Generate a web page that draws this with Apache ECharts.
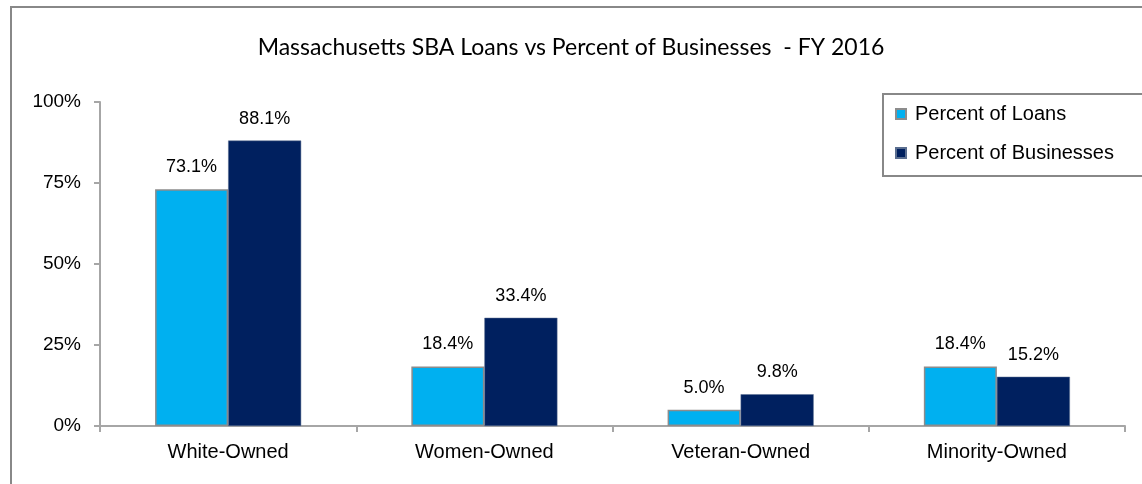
<!DOCTYPE html>
<html>
<head>
<meta charset="utf-8">
<script src="https://cdn.jsdelivr.net/npm/echarts@6/dist/echarts.min.js"></script>
<style>
html, body { margin: 0; padding: 0; background: #fff; }
#main { width: 1142px; height: 484px; }
</style>
</head>
<body>
<div id="main"></div>
<script>
var categories = ['White-Owned', 'Women-Owned', 'Veteran-Owned', 'Minority-Owned'];
var pctLoans = [73.1, 18.4, 5.0, 18.4];
var pctBusinesses = [88.1, 33.4, 9.8, 15.2];
var seriesNames = ['Percent of Loans', 'Percent of Businesses'];

var myChart = echarts.init(document.getElementById('main'));
var option = {
	animation: false,
	title: {
		text: 'Massachusetts SBA Loans vs Percent of Businesses  - FY 2016',
		left: 'center',
		top: 31,
		textStyle: { fontFamily: 'Lato', fontSize: 23, fontWeight: 'normal', color: '#000' }
	},
	graphic: [
		{ type: 'rect', shape: { x: 11, y: 7, width: 1140, height: 490 }, style: { fill: null, stroke: '#888', lineWidth: 2 }, z: -1 }
	],
	legend: {
		data: seriesNames,
		orient: 'vertical',
		left: 883,
		top: 94,
		padding: [10, 30, 13, 12],
		itemGap: 19,
		itemWidth: 10,
		itemHeight: 10,
		icon: 'rect',
		borderColor: '#888',
		borderWidth: 2,
		textStyle: { fontFamily: 'Liberation Sans', fontSize: 20, color: '#000', padding: [0, 0, 0, 4] }
	},
	grid: { left: 100, right: 17, top: 102, bottom: 58 },
	xAxis: {
		type: 'category',
		data: categories,
		axisLine: { lineStyle: { color: '#A6A6A6', width: 2 } },
		axisTick: { show: true, length: 6, lineStyle: { color: '#A6A6A6', width: 2 } },
		axisLabel: { fontFamily: 'Liberation Sans', fontSize: 20, color: '#000', margin: 16 }
	},
	yAxis: {
		type: 'value',
		min: 0,
		max: 100,
		interval: 25,
		splitLine: { show: false },
		axisLine: { show: true, lineStyle: { color: '#A6A6A6', width: 2 } },
		axisTick: { show: true, length: 6, lineStyle: { color: '#A6A6A6', width: 2 } },
		axisLabel: { formatter: '{value}%', fontFamily: 'Liberation Sans', fontSize: 19, color: '#000', margin: 19 }
	},
	series: [
		{
			name: seriesNames[0],
			type: 'bar',
			data: pctLoans,
			barGap: '0%',
			barCategoryGap: '43%',
			itemStyle: { color: '#00B0F0', borderColor: '#8C8C8C', borderWidth: 1.5 },
			label: { show: true, position: 'top', distance: 13, formatter: function (p) { return p.value.toFixed(1) + '%'; },
				fontFamily: 'Liberation Sans', fontSize: 18, color: '#000' }
		},
		{
			name: seriesNames[1],
			type: 'bar',
			data: pctBusinesses,
			itemStyle: { color: '#00205F', borderColor: '#5A6E90', borderWidth: 0.5 },
			label: { show: true, position: 'top', distance: 13, formatter: function (p) { return p.value.toFixed(1) + '%'; },
				fontFamily: 'Liberation Sans', fontSize: 18, color: '#000' }
		}
	]
};
myChart.setOption(option);
</script>
</body>
</html>
